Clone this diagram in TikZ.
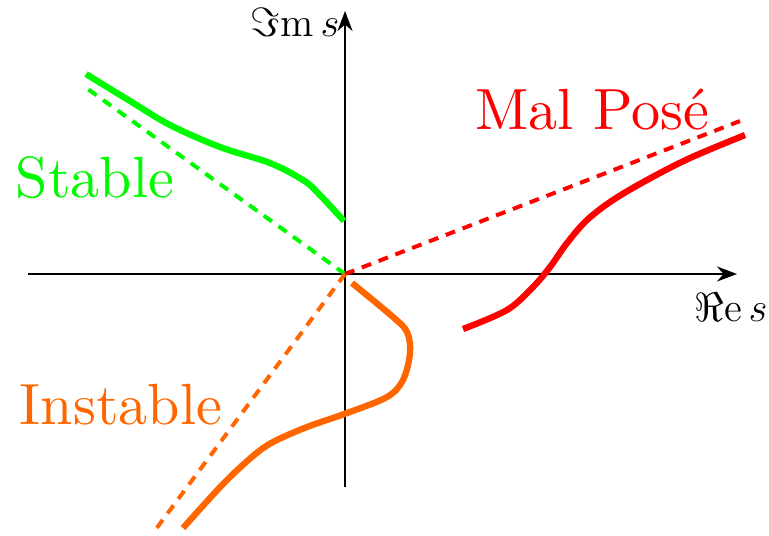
\documentclass[tikz,border=0pt]{standalone}
\usepackage{fontspec}
\usepackage{fix-cm}
\newfontfamily\lmten{lmroman10-regular.otf}
\usetikzlibrary{arrows.meta}
\definecolor{myorange}{RGB}{255,102,0}
\definecolor{mygreen}{RGB}{0,250,0}
\definecolor{myred}{RGB}{255,0,0}
\begin{document}
\begin{tikzpicture}[x=0.3bp,y=-0.3bp,
  axis/.style={line width=0.75bp,-{Stealth[length=6bp,width=4.5bp]}},
  curve/.style={line width=1.9bp,line join=round},
  guide/.style={line width=1.2bp,dash pattern=on 3bp off 2.4bp},
  biglabel/.style={font=\lmten\fontsize{17.5}{20}\selectfont,inner sep=0pt},
  axlabel/.style={font=\fontsize{12.3}{14}\selectfont,inner sep=0pt}]
\useasboundingbox (0,0) rectangle (769,535);
\coordinate (O) at (345,274);
\coordinate (xl) at (28,274);
\coordinate (xr) at (737,274);
\coordinate (yb) at (345,487);
\coordinate (yt) at (345,11);
\draw[axis] (xl) -- (xr);
\draw[axis] (yb) -- (yt);
\node[axlabel,anchor=east] (im) at (340,22) {$\Im\mathrm{m}\,s$};
\node[axlabel] (re) at (731,307) {$\Re\mathrm{e}\,s$};
% guides
\coordinate (gS) at (85,87);
\coordinate (gM) at (740,121);
\coordinate (gI) at (153,533);
\draw[guide,mygreen] (O) -- (gS);
\draw[guide,myred] (O) -- (gM);
\draw[guide,myorange] (O) -- (gI);
% curves
\draw[curve,mygreen] plot[smooth,tension=0.55] coordinates {(86,74) (130,101) (170,125) (220,147) (270,163) (303,180) (318,193) (344,221)};
\draw[curve,myred] plot[smooth,tension=0.55] coordinates {(463,329) (507,310) (533,287) (550,267) (567,243) (587,220) (613,200) (647,180) (690,158) (745,135)};
\draw[curve,myorange] plot[smooth,tension=0.55] coordinates {(352,283) (393,317) (407,332) (410,353) (403,380) (387,397) (347,413) (307,427) (273,442) (253,456) (223,484) (183,528)};
% labels
\node[biglabel,text=mygreen] (st) at (95,178) {Stable};
\node[biglabel,text=myorange] (in) at (121,405) {Instable};
\node[biglabel,text=myred] (mp) at (592,110) {Mal Pos\'e};
\end{tikzpicture}
\end{document}
